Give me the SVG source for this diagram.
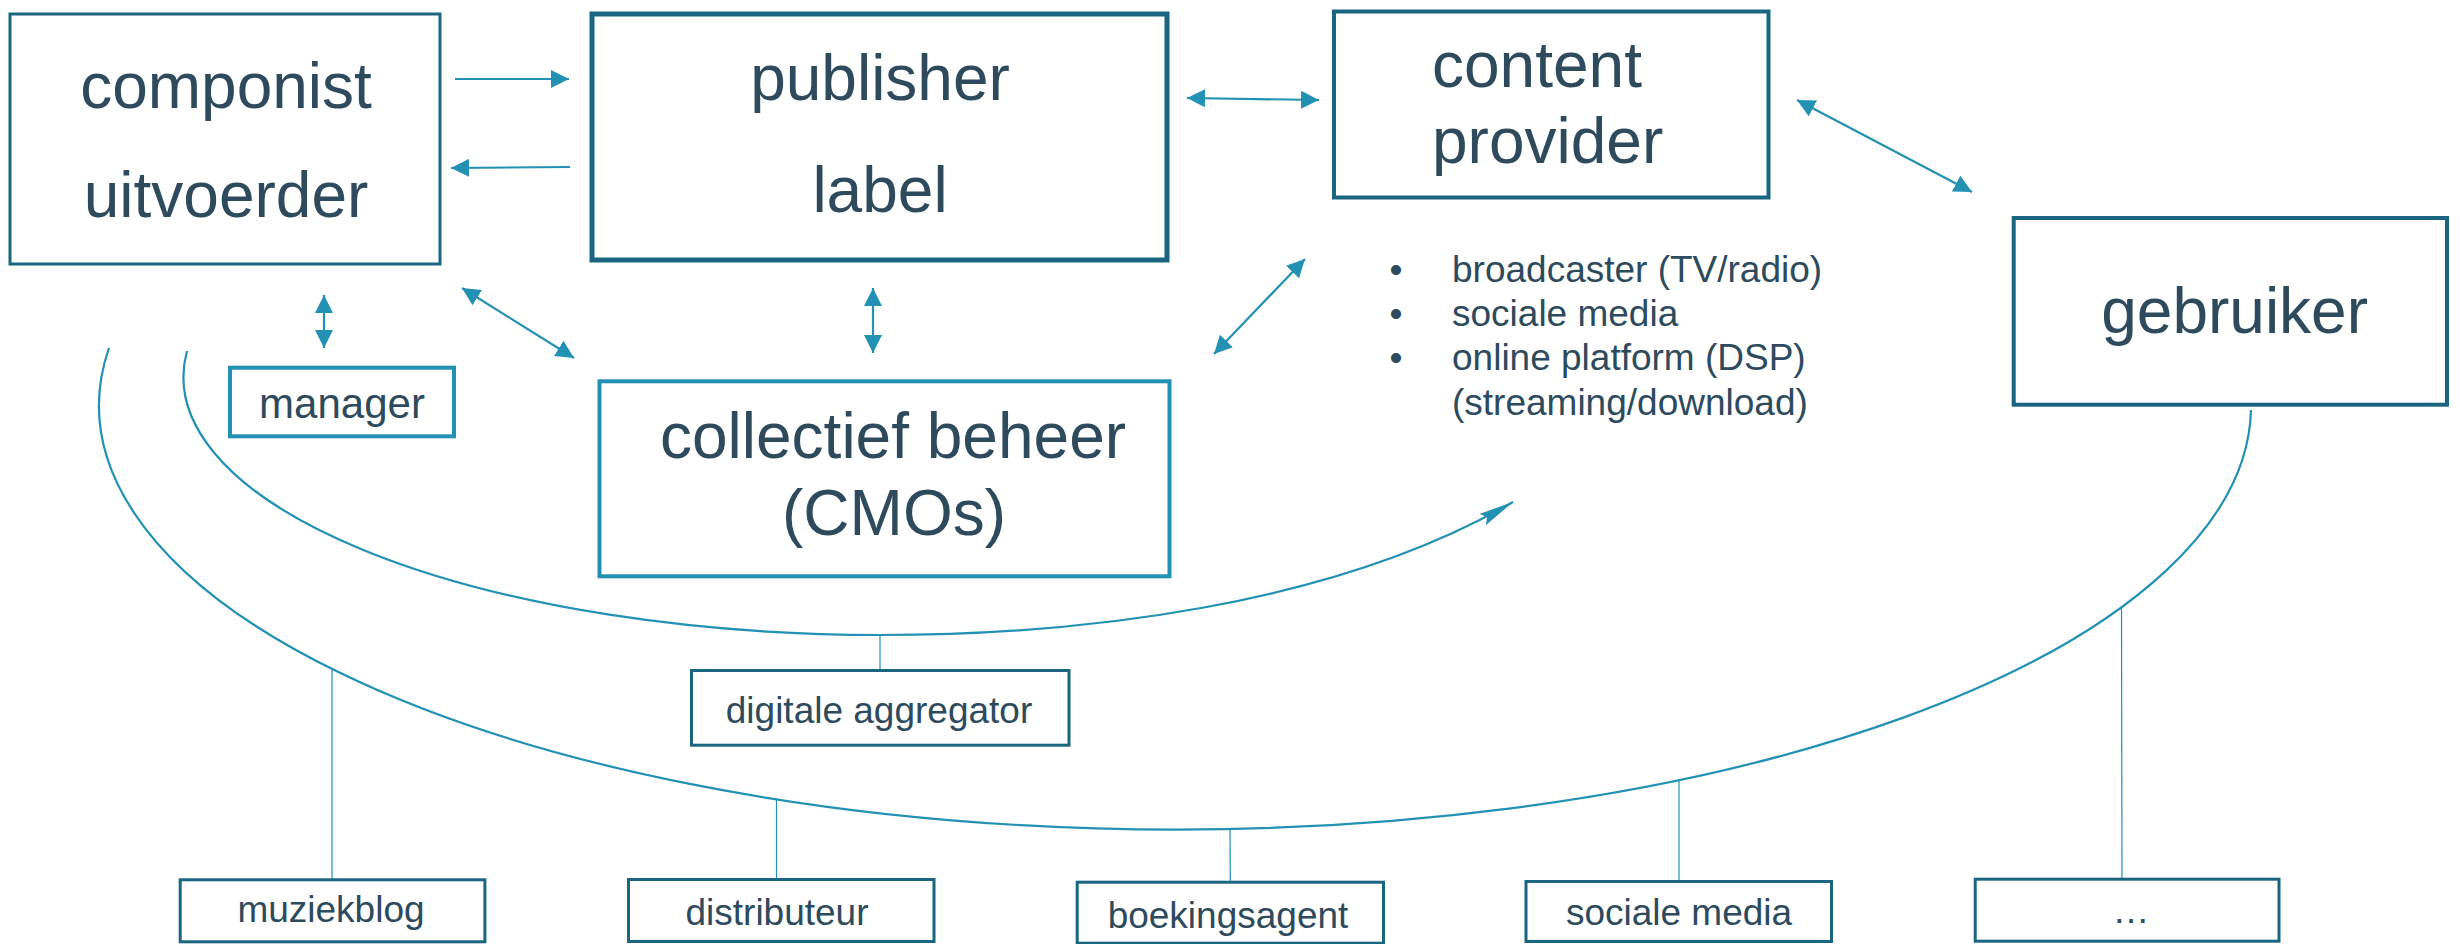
<svg xmlns="http://www.w3.org/2000/svg" width="2460" height="944" viewBox="0 0 2460 944">
<defs>
<style>
text{font-family:"Liberation Sans",Arial,sans-serif;fill:#2e4a5d}
.big{font-size:64px}
.mid{font-size:42px}
.sm{font-size:37px}
.dark{fill:#fff;stroke:#1a6681}
.light{fill:#fff;stroke:#2391b4}
.arr{stroke:#2391b4;stroke-width:2.2;fill:none}
.curve{stroke:#2391b4;stroke-width:2.2;fill:none}
.conn{stroke:#2391b4;stroke-width:1.2;fill:none}
</style>
<marker id="ah" markerUnits="userSpaceOnUse" markerWidth="18" markerHeight="18" refX="16" refY="8" orient="auto-start-reverse" viewBox="0 0 16 16">
<path d="M0,0 L16,8 L0,16 Z" fill="#2391b4"/>
</marker>
<marker id="ah2" markerUnits="userSpaceOnUse" markerWidth="36" markerHeight="14" refX="35" refY="6.5" orient="auto" viewBox="0 0 36 13">
<path d="M0,0 L35,6.5 L0,13 L5,6.5 Z" fill="#2391b4"/>
</marker>
</defs>
<rect width="2460" height="944" fill="#fff"/>

<g id="connectors">
<line class="arr" x1="455" y1="79" x2="569" y2="79" marker-end="url(#ah)"/>
<line class="arr" x1="570" y1="167" x2="451" y2="168" marker-end="url(#ah)"/>
<line class="arr" x1="1187" y1="98" x2="1319" y2="100" marker-start="url(#ah)" marker-end="url(#ah)"/>
<line class="arr" x1="1797" y1="100" x2="1972" y2="192" marker-start="url(#ah)" marker-end="url(#ah)"/>
<line class="arr" x1="324" y1="295" x2="324" y2="348" marker-start="url(#ah)" marker-end="url(#ah)"/>
<line class="arr" x1="462" y1="288" x2="574" y2="358" marker-start="url(#ah)" marker-end="url(#ah)"/>
<line class="arr" x1="873" y1="288" x2="873" y2="353" marker-start="url(#ah)" marker-end="url(#ah)"/>
<line class="arr" x1="1305" y1="259" x2="1214" y2="354" marker-start="url(#ah)" marker-end="url(#ah)"/>
<path class="curve" d="M109,348 A1076,424 0 1 0 2251,410"/>
<path class="curve" d="M187,351 A697,258 0 0 0 880,635 C1080,635 1333,606 1513,502" marker-end="url(#ah2)"/>
<line class="conn" x1="880" y1="635" x2="880" y2="670"/>
<line class="conn" x1="332" y1="668" x2="332" y2="879"/>
<line class="conn" x1="776.5" y1="799" x2="776.5" y2="879"/>
<line class="conn" x1="1230" y1="829" x2="1230.3" y2="882"/>
<line class="conn" x1="1679" y1="780" x2="1679" y2="881"/>
<line class="conn" x1="2121.5" y1="607" x2="2122" y2="879"/>
</g>

<g id="componist">
<rect class="dark" x="10" y="14" width="430" height="250" stroke-width="3"/>
<text class="big" x="226" y="108" text-anchor="middle">componist</text>
<text class="big" x="226" y="217" text-anchor="middle">uitvoerder</text>
</g>
<g id="publisher">
<rect class="dark" x="592" y="14" width="575" height="246" stroke-width="5"/>
<text class="big" x="880" y="100" text-anchor="middle">publisher</text>
<text class="big" x="880" y="212" text-anchor="middle">label</text>
</g>
<g id="content">
<rect class="dark" x="1334" y="11.5" width="434.5" height="186" stroke-width="4"/>
<text class="big" x="1432" y="87">content</text>
<text class="big" x="1432" y="163">provider</text>
</g>
<g id="gebruiker">
<rect class="dark" x="2013.7" y="218" width="433.3" height="186.7" stroke-width="4"/>
<text class="big" x="2234.6" y="333" text-anchor="middle">gebruiker</text>
</g>
<g id="manager">
<rect class="light" x="230" y="367.7" width="224" height="68.6" stroke-width="4"/>
<text class="mid" x="342" y="417.7" text-anchor="middle">manager</text>
</g>
<g id="collectief">
<rect class="light" x="599.5" y="381.3" width="570" height="195" stroke-width="4"/>
<text class="big" x="893" y="458" text-anchor="middle">collectief beheer</text>
<text class="big" x="894" y="535" text-anchor="middle">(CMOs)</text>
</g>
<g id="providers-list">
<text class="sm" x="1396" y="281.7" text-anchor="middle">•</text>
<text class="sm" x="1452" y="281.7">broadcaster (TV/radio)</text>
<text class="sm" x="1396" y="326" text-anchor="middle">•</text>
<text class="sm" x="1452" y="326">sociale media</text>
<text class="sm" x="1396" y="370" text-anchor="middle">•</text>
<text class="sm" x="1452" y="370">online platform (DSP)</text>
<text class="sm" x="1452" y="415">(streaming/download)</text>
</g>
<g id="aggregator">
<rect class="dark" x="691.5" y="670.5" width="377.5" height="74.7" stroke-width="3"/>
<text class="sm" x="879" y="723" text-anchor="middle">digitale aggregator</text>
</g>
<g id="muziekblog">
<rect class="dark" x="180.2" y="879.8" width="304.7" height="62" stroke-width="3"/>
<text class="sm" x="331" y="921.7" text-anchor="middle">muziekblog</text>
</g>
<g id="distributeur">
<rect class="dark" x="628.5" y="879.5" width="305.5" height="62" stroke-width="3"/>
<text class="sm" x="777" y="925" text-anchor="middle">distributeur</text>
</g>
<g id="boekingsagent">
<rect class="dark" x="1077.2" y="882.2" width="306.3" height="61" stroke-width="3"/>
<text class="sm" x="1228" y="928.3" text-anchor="middle">boekingsagent</text>
</g>
<g id="socialemedia">
<rect class="dark" x="1526" y="881.5" width="305.5" height="60" stroke-width="3"/>
<text class="sm" x="1679" y="925" text-anchor="middle">sociale media</text>
</g>
<g id="more">
<rect class="dark" x="1975.2" y="879.2" width="303.8" height="62" stroke-width="3"/>
<text class="sm" x="2131" y="923" text-anchor="middle">…</text>
</g>
</svg>
